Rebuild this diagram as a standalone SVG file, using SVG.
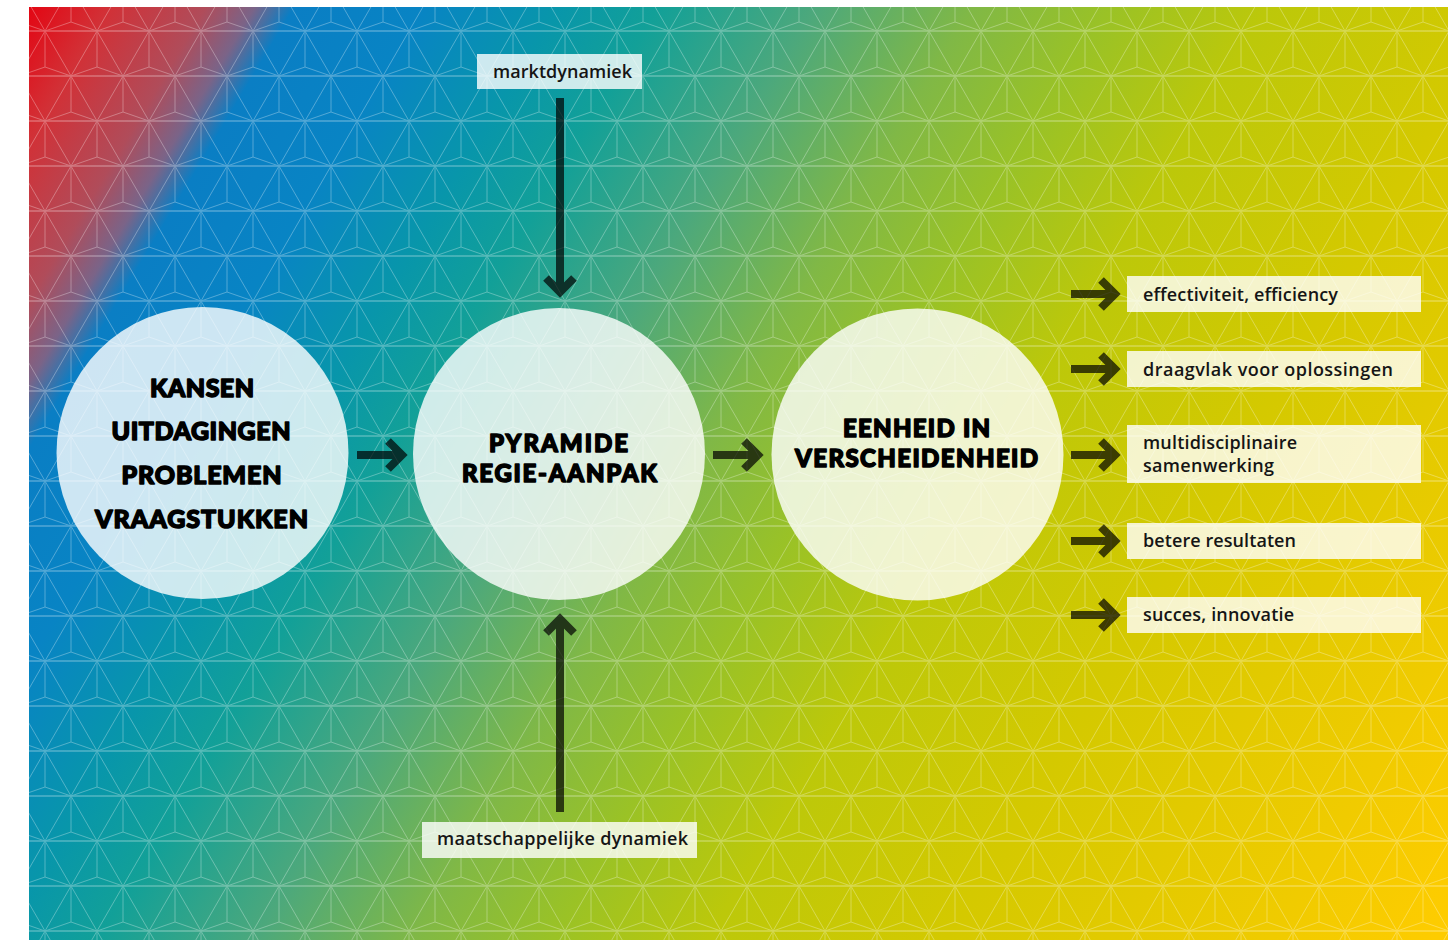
<svg xmlns="http://www.w3.org/2000/svg" xmlns:xlink="http://www.w3.org/1999/xlink" width="1456" height="940" viewBox="0 0 1456 940">
<style>
.heavy{font-family:Lato,"Liberation Sans","DejaVu Sans",sans-serif;font-weight:900;font-size:25px;fill:#000;stroke:#000;stroke-width:1.5;stroke-linejoin:round;text-anchor:middle}
.lbl{font-family:"Open Sans","Noto Sans","Liberation Sans",sans-serif;font-weight:600;font-size:18px;fill:#151515}
.disc{fill:#fff;fill-opacity:0.8}
.box{fill:#fff;fill-opacity:0.8}
.arrow{fill:none;stroke:#000;stroke-opacity:0.7;stroke-width:8;stroke-linejoin:miter;stroke-miterlimit:4}
</style>
<defs>
<linearGradient id="bg" gradientUnits="userSpaceOnUse" x1="29" y1="7" x2="1474" y2="874">
<stop offset="0" stop-color="#e30613"/>
<stop offset="0.04" stop-color="#d23036"/>
<stop offset="0.09" stop-color="#b04c5a"/>
<stop offset="0.115" stop-color="#7a6488"/>
<stop offset="0.135" stop-color="#0a7ec4"/>
<stop offset="0.2" stop-color="#0884c4"/>
<stop offset="0.27" stop-color="#0896aa"/>
<stop offset="0.32" stop-color="#12a098"/>
<stop offset="0.40" stop-color="#4ca87c"/>
<stop offset="0.48" stop-color="#80b846"/>
<stop offset="0.55" stop-color="#9ac226"/>
<stop offset="0.63" stop-color="#bcc80a"/>
<stop offset="0.75" stop-color="#d4c900"/>
<stop offset="1" stop-color="#fecc00"/>
</linearGradient>
<g id="cell">
<path d="M0,0 H52 M0,45 H52" fill="none" stroke="#fff" stroke-width="1.6"/>
<path d="M0,0 L52,90 M52,0 L0,90 M0,0 V36 L-26,45 M0,36 L26,45 M26,45 V81 L0,90 M26,81 L52,90" fill="none" stroke="#fff" stroke-width="1"/>
</g>
<pattern id="tri" patternUnits="userSpaceOnUse" x="45" y="31" width="52" height="90">
<use href="#cell" x="-52" y="-90"/><use href="#cell" x="0" y="-90"/><use href="#cell" x="52" y="-90"/>
<use href="#cell" x="-52" y="0"/><use href="#cell" x="0" y="0"/><use href="#cell" x="52" y="0"/>
<use href="#cell" x="-52" y="90"/><use href="#cell" x="0" y="90"/><use href="#cell" x="52" y="90"/>
</pattern>
</defs>

<g id="background">
<rect x="29" y="7" width="1419" height="933" fill="url(#bg)"/>
<rect x="29" y="7" width="1419" height="933" fill="url(#tri)" opacity="0.3"/>
</g>

<g id="node-kansen">
<circle class="disc" cx="202.5" cy="453" r="146"/>
<text class="heavy" x="202" y="397" textLength="104">KANSEN</text>
<text class="heavy" x="201" y="440" textLength="179">UITDAGINGEN</text>
<text class="heavy" x="201.5" y="484" textLength="160">PROBLEMEN</text>
<text class="heavy" x="201.5" y="528" textLength="213">VRAAGSTUKKEN</text>
</g>

<g id="node-pyramide">
<circle class="disc" cx="559" cy="454" r="146"/>
<text class="heavy" x="558.5" y="452" textLength="139" style="font-size:24px">PYRAMIDE</text>
<text class="heavy" x="559.5" y="482" textLength="195" style="font-size:24px">REGIE-AANPAK</text>
</g>

<g id="node-eenheid">
<circle class="disc" cx="917.5" cy="454.5" r="146"/>
<text class="heavy" x="916.5" y="437" textLength="147" style="font-size:24px">EENHEID IN</text>
<text class="heavy" x="916.5" y="467" textLength="243" style="font-size:24px">VERSCHEIDENHEID</text>
</g>

<g id="node-marktdynamiek">
<rect class="box" x="477" y="54" width="165" height="35"/>
<text class="lbl" x="493" y="78" textLength="139">marktdynamiek</text>
</g>

<g id="node-maatschappelijke-dynamiek">
<rect class="box" x="422" y="822" width="275" height="36"/>
<text class="lbl" x="437" y="845" textLength="251">maatschappelijke dynamiek</text>
</g>

<g id="node-effectiviteit">
<rect class="box" x="1127" y="276" width="294" height="36"/>
<text class="lbl" x="1143" y="301" textLength="195">effectiviteit, efficiency</text>
</g>
<g id="node-draagvlak">
<rect class="box" x="1127" y="351" width="294" height="36"/>
<text class="lbl" x="1143" y="376" textLength="250">draagvlak voor oplossingen</text>
</g>
<g id="node-multidisciplinair">
<rect class="box" x="1127" y="425" width="294" height="58"/>
<text class="lbl" x="1143" y="449" textLength="154">multidisciplinaire</text>
<text class="lbl" x="1143" y="472" textLength="131">samenwerking</text>
</g>
<g id="node-resultaten">
<rect class="box" x="1127" y="523" width="294" height="36"/>
<text class="lbl" x="1143" y="547" textLength="153">betere resultaten</text>
</g>
<g id="node-succes">
<rect class="box" x="1127" y="597" width="294" height="36"/>
<text class="lbl" x="1143" y="621" textLength="151">succes, innovatie</text>
</g>

<g id="connectors">
<path class="arrow" d="M357,455 H400 M388,441 L402,455 L388,469"/>
<path class="arrow" d="M713,455 H756 M744,441 L758,455 L744,469"/>
<path class="arrow" d="M560,98 V290 M546,278 L560,292 L574,278"/>
<path class="arrow" d="M560,812 V621 M546,633 L560,619 L574,633"/>
<path class="arrow" d="M1071,294 H1113 M1101,280 L1115,294 L1101,308"/>
<path class="arrow" d="M1071,369 H1113 M1101,355 L1115,369 L1101,383"/>
<path class="arrow" d="M1071,455 H1113 M1101,441 L1115,455 L1101,469"/>
<path class="arrow" d="M1071,541 H1113 M1101,527 L1115,541 L1101,555"/>
<path class="arrow" d="M1071,615 H1113 M1101,601 L1115,615 L1101,629"/>
</g>
</svg>
